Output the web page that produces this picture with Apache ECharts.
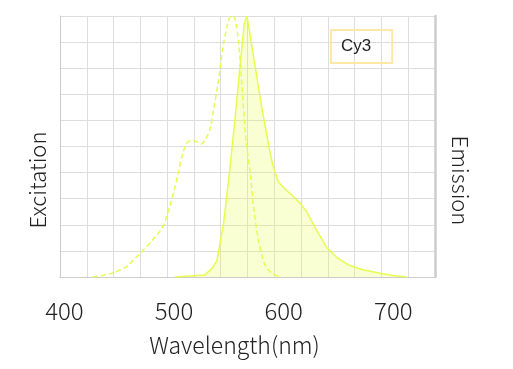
<!DOCTYPE html>
<html>
<head>
<meta charset="utf-8">
<script src="https://cdn.jsdelivr.net/npm/echarts@6/dist/echarts.min.js"></script>
<style>html,body{margin:0;padding:0;background:#fff}#c{width:513px;height:369px}</style>
</head>
<body>
<div id="c"></div>
<script>
// Wavelength tick labels
var xTickLabels = [400, 500, 600, 700];
// Excitation spectrum (dashed): [wavelength nm, relative %]
var excitationData = [
  [426, 0], [435, 0.6], [443, 1.4], [450, 2.5], [457, 4], [463, 6.5], [469, 9],
  [480, 14], [490, 19.5], [496, 27], [500, 33], [504, 40], [508, 47.5], [512, 51.5],
  [516, 52.3], [521, 51.8], [525, 51], [529, 53], [533, 57], [536, 64], [540, 74],
  [545, 89], [549, 97], [552, 100], [555, 99.5], [557, 96], [559, 89.5], [562, 73],
  [564, 61], [566, 51], [569.5, 40], [572.5, 27], [577, 14], [583, 4.6], [589, 1.5], [595, 0.3]
];
// Emission spectrum (solid, filled): [wavelength nm, relative %]
var emissionData = [
  [501, 0], [515, 0.4], [528, 0.8], [534, 3], [539, 6.2], [545, 20], [550, 38],
  [555, 58], [560, 80], [564, 97], [566.5, 100], [570, 91], [574, 80.6], [580, 65],
  [586.8, 49.3], [590, 43], [595, 36.5], [601, 33.8], [607.5, 31.4], [615, 28.2],
  [621, 25], [629, 18.7], [639, 11.4], [649, 7.3], [659, 4.6], [673, 2.7], [688, 1.4],
  [700, 0.6], [712, 0]
];
var seriesName = 'Cy3';

var lineColor = '#e6fd4f';
var font = '"Noto Sans CJK SC", "Noto Sans", sans-serif';
var chart = echarts.init(document.getElementById('c'));
chart.setOption({
  animation: false,
  backgroundColor: '#fff',
  grid: { left: 60, right: 78, top: 16, bottom: 92 },
  legend: {
    data: [seriesName],
    left: 331, top: 30,
    padding: [8, 21, 8, 5],
    borderColor: '#fde8a5', borderWidth: 2,
    itemWidth: 0, itemHeight: 0, icon: 'none',
    textStyle: { fontFamily: 'Liberation Sans, Arial, sans-serif', fontSize: 17, color: '#222' }
  },
  xAxis: [{
    type: 'value', min: 396, max: 738,
    axisLine: { show: true, lineStyle: { color: '#cccccc', width: 1 } },
    axisTick: { show: false },
    splitLine: { show: false },
    axisLabel: { customValues: xTickLabels, margin: 22, fontFamily: font, fontWeight: 300, fontSize: 24, color: '#222' },
    name: 'Wavelength(nm)', nameLocation: 'middle', nameGap: 57,
    nameTextStyle: { fontFamily: font, fontWeight: 300, fontSize: 23, color: '#222', padding: [0, 26, 0, 0] }
  }, {
    type: 'value', min: 0, max: 14, interval: 1, position: 'top',
    axisLine: { show: true, lineStyle: { color: '#cccccc', width: 1 } },
    axisTick: { show: false }, axisLabel: { show: false },
    splitLine: { show: true, lineStyle: { color: '#dddddd', width: 1 } }
  }],
  yAxis: [{
    type: 'value', min: 0, max: 100, interval: 10, position: 'left',
    axisLine: { show: true, lineStyle: { color: '#cccccc', width: 1 } },
    axisTick: { show: false }, axisLabel: { show: false },
    splitLine: { show: true, lineStyle: { color: '#dddddd', width: 1 } },
    name: 'Excitation', nameLocation: 'middle', nameGap: 11,
    nameTextStyle: { fontFamily: font, fontWeight: 300, fontSize: 22, color: '#222', padding: [0, 67, 0, 0] }
  }, {
    type: 'value', min: 0, max: 100, interval: 10, position: 'right',
    axisLine: { show: true, lineStyle: { color: '#cccccc', width: 2.5 } },
    axisTick: { show: false }, axisLabel: { show: false },
    splitLine: { show: false },
    name: 'Emission', nameLocation: 'middle', nameGap: 14, nameRotate: -90,
    nameTextStyle: { fontFamily: font, fontWeight: 300, fontSize: 22, color: '#222', padding: [0, 0, 0, 68] }
  }],
  series: [{
    name: seriesName, type: 'line', xAxisIndex: 0, yAxisIndex: 0,
    data: excitationData, showSymbol: false, symbol: 'none', smooth: 0.3,
    lineStyle: { color: lineColor, width: 1.5, type: [5, 3] },
    itemStyle: { color: lineColor }
  }, {
    name: seriesName, type: 'line', xAxisIndex: 0, yAxisIndex: 1,
    data: emissionData, showSymbol: false, symbol: 'none',
    lineStyle: { color: lineColor, width: 1.5 },
    itemStyle: { color: lineColor },
    areaStyle: { color: lineColor, opacity: 0.25 }
  }]
});
</script>
</body>
</html>
